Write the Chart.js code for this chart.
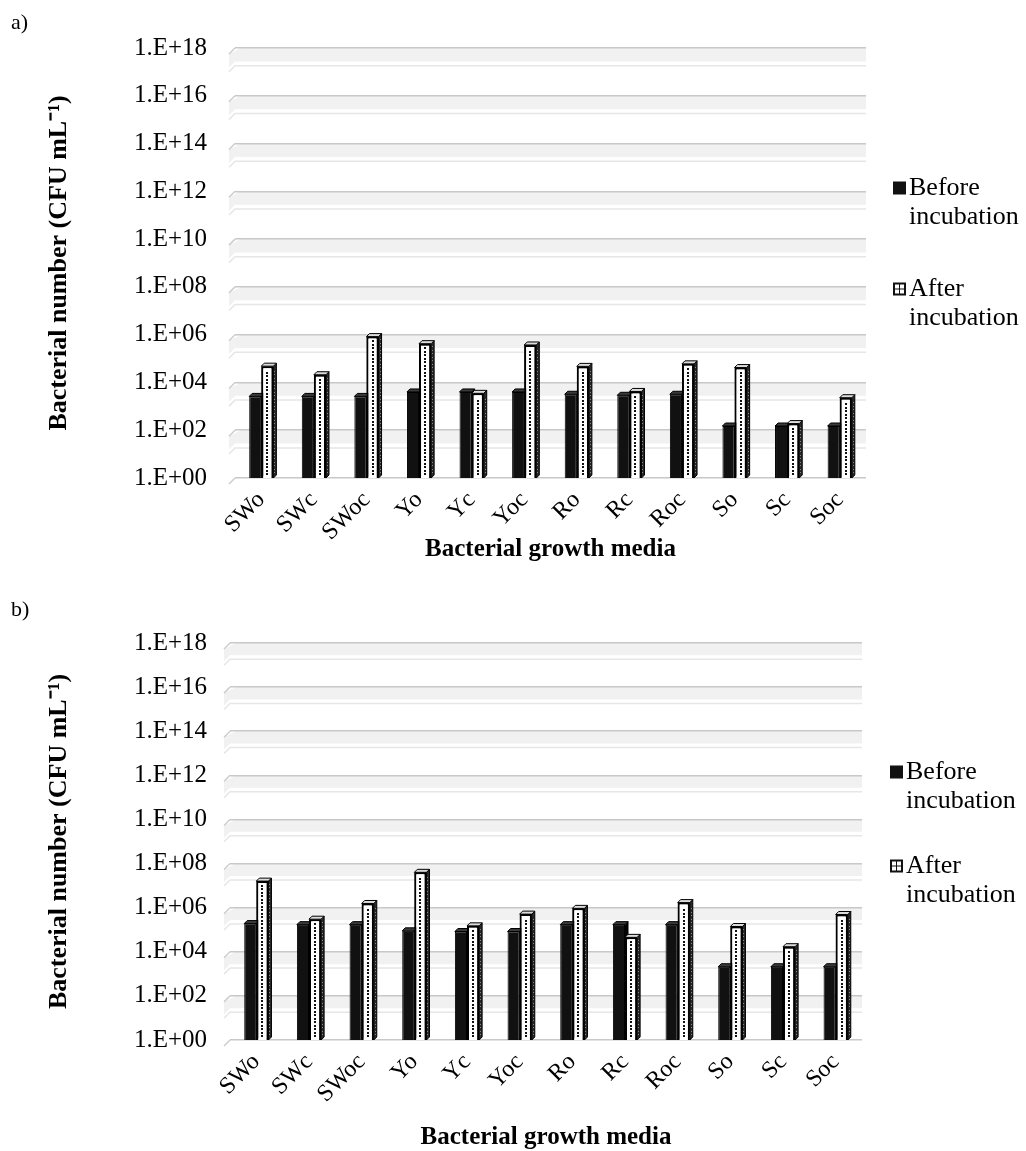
<!DOCTYPE html>
<html><head><meta charset="utf-8">
<script src="https://cdn.jsdelivr.net/npm/chart.js@4.4.0/dist/chart.umd.min.js"></script>
<style>
html,body{margin:0;padding:0;background:#fff;}
body{width:1026px;height:1151px;position:relative;overflow:hidden;font-family:"Liberation Serif","Times New Roman",serif;}
.panel{position:absolute;left:0;width:1026px;}
#pa{top:0;height:590px;}
#pb{top:590px;height:561px;}
.lab{position:absolute;font-size:22px;line-height:22px;color:#000;}
canvas{display:block;}
</style></head><body>
<div class="panel" id="pa"><canvas id="ca" width="1026" height="590"></canvas></div>
<div class="panel" id="pb"><canvas id="cb" width="1026" height="561"></canvas></div>
<div class="lab" style="left:11px;top:11px;">a)</div>
<div class="lab" style="left:11px;top:598px;">b)</div>
<script>
// ---- data ----
const categories = ['SWo','SWc','SWoc','Yo','Yc','Yoc','Ro','Rc','Roc','So','Sc','Soc'];
const beforeA = [2.6e3, 2.6e3, 2.6e3, 4.0e3, 4.0e3, 4.0e3, 3.2e3, 2.9e3, 3.2e3, 1.5e2, 1.5e2, 1.5e2];
const afterA  = [4.8e4, 2.1e4, 8.3e5, 4.2e5, 3.5e3, 3.7e5, 4.7e4, 4.2e3, 6.0e4, 4.2e4, 1.9e2, 2.3e3];
const beforeB = [1.9e5, 1.7e5, 1.7e5, 8.9e4, 8.3e4, 8.3e4, 1.7e5, 1.7e5, 1.7e5, 2.1e3, 2.1e3, 2.1e3];
const afterB  = [1.6e7, 3.0e5, 1.55e6, 4.0e7, 1.5e5, 5.1e5, 9.3e5, 4.5e4, 1.7e6, 1.4e5, 1.7e4, 4.9e5];
const yTickValues = [1e0, 1e2, 1e4, 1e6, 1e8, 1e10, 1e12, 1e14, 1e16, 1e18];
const yTickLabels = ['1.E+00','1.E+02','1.E+04','1.E+06','1.E+08','1.E+10','1.E+12','1.E+14','1.E+16','1.E+18'];
const seriesNames = [['Before','incubation'], ['After','incubation']];
const yTitle = 'Bacterial number (CFU mL\u207B\u00B9)';
const xTitle = 'Bacterial growth media';

const FONT = '"Liberation Serif", "Times New Roman", serif';

// grey wall bands below each major gridline
const wallPlugin = {
  id: 'wall',
  beforeDraw(chart) {
    const y = chart.scales.y, ca = chart.chartArea, ctx = chart.ctx;
    ctx.save();
    const vals = yTickValues;
    for (let i = 1; i < vals.length; i++) {
      const y0 = y.getPixelForValue(vals[i]);
      const s = y.getPixelForValue(vals[i-1]) - y0;
      ctx.fillStyle = '#f1f1f1';
      ctx.beginPath();
      ctx.moveTo(ca.left + 6, y0);
      ctx.lineTo(ca.right, y0);
      ctx.lineTo(ca.right, y0 + 0.28 * s);
      ctx.lineTo(ca.left, y0 + 0.28 * s);
      ctx.lineTo(ca.left - 6, y0 + 0.28 * s + 6);
      ctx.lineTo(ca.left - 6, y0 + 6);
      ctx.closePath();
      ctx.fill();
      ctx.strokeStyle = '#e6e6e6';
      ctx.lineWidth = 1.5;
      ctx.beginPath();
      ctx.moveTo(ca.left - 6, y0 + 0.37 * s + 6);
      ctx.lineTo(ca.left, y0 + 0.37 * s);
      ctx.lineTo(ca.right, y0 + 0.37 * s);
      ctx.stroke();
    }
    ctx.strokeStyle = '#cccccc';
    ctx.lineWidth = 1.5;
    for (let i = 0; i < vals.length; i++) {
      const y0 = y.getPixelForValue(vals[i]);
      ctx.beginPath();
      ctx.moveTo(ca.left - 6, y0 + 6);
      ctx.lineTo(ca.left, y0);
      ctx.stroke();
    }
    ctx.restore();
  }
};

function drawFaces(ctx, el, ds) {
  const d = 3;
  const p = el.getProps(['x','y','base','width'], true);
  const l = p.x - p.width / 2, r = p.x + p.width / 2;
  ctx.lineWidth = 1;
  ctx.strokeStyle = '#000';
  ctx.beginPath();
  ctx.moveTo(r, p.y); ctx.lineTo(r + d, p.y - d); ctx.lineTo(r + d, p.base - d); ctx.lineTo(r, p.base);
  ctx.closePath();
  ctx.fillStyle = ds.sideColor; ctx.fill(); ctx.stroke();
  ctx.beginPath();
  ctx.moveTo(l, p.y); ctx.lineTo(l + d, p.y - d); ctx.lineTo(r + d, p.y - d); ctx.lineTo(r, p.y);
  ctx.closePath();
  ctx.fillStyle = ds.topColor; ctx.fill(); ctx.stroke();
  if (ds.dotted) {
    ctx.fillStyle = '#111';
    for (let yy = p.base - 5; yy > p.y + 3; yy -= 3.5) {
      ctx.fillRect(Math.round(p.x) - 1, Math.round(yy), 2, 2);
    }
    ctx.fillStyle = '#888';
    for (let yy = p.base - 6; yy > p.y + 2; yy -= 3.5) {
      ctx.fillRect(Math.round(r + 1), Math.round(yy), 1, 1);
    }
  }
}

// pseudo-3D faces for bars; "after" bars are redrawn in front of "before" bars
const bar3dPlugin = {
  id: 'bar3d',
  afterDatasetsDraw(chart) {
    const ctx = chart.ctx;
    ctx.save();
    const m0 = chart.getDatasetMeta(0), m1 = chart.getDatasetMeta(1);
    const d0 = chart.data.datasets[0], d1 = chart.data.datasets[1];
    m0.data.forEach(el => drawFaces(ctx, el, d0));
    m1.data.forEach(el => { el.draw(ctx); drawFaces(ctx, el, d1); });
    ctx.restore();
  }
};

// legend with two-line labels
const legendPlugin = {
  id: 'legend2',
  afterDraw(chart, args, opts) {
    const ctx = chart.ctx;
    const x0 = chart.chartArea.right + opts.dx;
    ctx.save();
    ctx.font = '26px ' + FONT;
    ctx.textBaseline = 'middle';
    ctx.textAlign = 'left';
    chart.data.datasets.forEach((ds, i) => {
      const yc = opts.ys[i];
      const sq = 13;
      ctx.fillStyle = '#111';
      ctx.fillRect(x0, yc - sq / 2, sq, sq);
      if (ds.dotted) {
        ctx.fillStyle = '#fff';
        ctx.fillRect(x0 + 2, yc - sq / 2 + 2, 4, 4);
        ctx.fillRect(x0 + 7, yc - sq / 2 + 2, 4, 4);
        ctx.fillRect(x0 + 2, yc - sq / 2 + 7, 4, 4);
        ctx.fillRect(x0 + 7, yc - sq / 2 + 7, 4, 4);
      }
      ctx.fillStyle = '#000';
      ds.label.forEach((t, k) => ctx.fillText(t, x0 + sq + 3, yc + k * 29));
    });
    ctx.restore();
  }
};

function makeChart(id, before, after, g) {
  const H = document.getElementById(id).height;
  return new Chart(document.getElementById(id), {
    type: 'bar',
    data: {
      labels: categories,
      datasets: [
        { label: seriesNames[0], data: before, backgroundColor: '#111111', borderColor: '#000', borderWidth: 1,
          sideColor: '#000000', topColor: '#3a3a3a', dotted: false,
          categoryPercentage: 0.46, barPercentage: 1.0 },
        { label: seriesNames[1], data: after, backgroundColor: '#ffffff', borderColor: '#000', borderWidth: 2,
          sideColor: '#2a2a2a', topColor: '#dcdcdc', dotted: true,
          categoryPercentage: 0.46, barPercentage: 1.0 }
      ]
    },
    options: {
      responsive: false,
      animation: false,
      layout: { padding: { left: 0, right: 1026 - g.right, top: g.top, bottom: 0 } },
      plugins: {
        legend: { display: false },
        tooltip: { enabled: false },
        legend2: { dx: g.legendDx, ys: g.legendYs }
      },
      scales: {
        x: {
          type: 'category',
          grid: { display: false },
          border: { display: false },
          ticks: { color: '#000', font: { family: FONT, size: 24 }, minRotation: 45, maxRotation: 45, autoSkip: false, padding: 0 },
          title: { display: true, text: xTitle, color: '#000', font: { family: FONT, size: 25, weight: 'bold', lineHeight: 1.2 },
                   padding: { top: 0, bottom: g.xTitlePad } },
          afterFit(scale) { scale.height = H - g.bottom; }
        },
        y: {
          type: 'logarithmic',
          min: 1, max: 1e18,
          afterBuildTicks(scale) { scale.ticks = yTickValues.map(v => ({ value: v })); },
          grid: { color: '#c8c8c8', lineWidth: 1.5, drawTicks: false },
          border: { display: false },
          ticks: { color: '#000', font: { family: FONT, size: 25 }, padding: g.tickPad,
                   callback: (v, i) => yTickLabels[i] },
          title: { display: true, text: yTitle, color: '#000', font: { family: FONT, size: 26, weight: 'bold', lineHeight: 1.2 },
                   padding: { top: 44, bottom: 0 } },
          afterFit(scale) { scale.width = g.left; }
        }
      }
    },
    plugins: [wallPlugin, bar3dPlugin, legendPlugin]
  });
}

makeChart('ca', beforeA, afterA, { left: 235, right: 866, top: 48, bottom: 478, tickPad: 28, xTitlePad: 25, legendDx: 27, legendYs: [188, 289] });
makeChart('cb', beforeB, afterB, { left: 230, right: 862, top: 53, bottom: 450, tickPad: 23, xTitlePad: -2, legendDx: 28, legendYs: [182, 276] });
</script>
</body></html>
